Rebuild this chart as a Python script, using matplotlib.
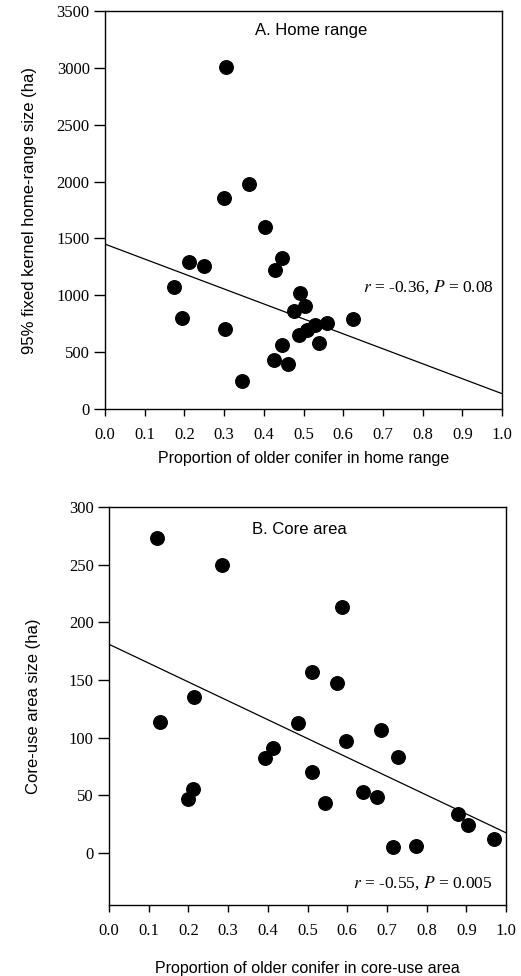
import matplotlib
matplotlib.use("Agg")
import matplotlib.pyplot as plt
import numpy as np

# Panel A: home range
hr_x = [0.304, 0.362, 0.300, 0.403, 0.446, 0.428, 0.212, 0.250, 0.174, 0.491, 0.504, 0.477,
        0.193, 0.625, 0.559, 0.530, 0.508, 0.489, 0.303, 0.540, 0.446, 0.426, 0.462, 0.345]
hr_y = [3011, 1980, 1854, 1602, 1324, 1224, 1289, 1259, 1072, 1019, 905, 864,
        800, 791, 756, 741, 697, 653, 700, 583, 562, 428, 398, 249]
hr_fit_x = [0.0, 1.0]
hr_fit_y = [1450, 135]

# Panel B: core area
ca_x = [0.122, 0.284, 0.586, 0.512, 0.574, 0.215, 0.128, 0.476, 0.686, 0.598, 0.412, 0.392,
        0.727, 0.512, 0.211, 0.200, 0.641, 0.676, 0.545, 0.879, 0.905, 0.971, 0.716, 0.773]
ca_y = [272.8, 249.7, 213, 156.6, 147.7, 135, 114, 112.7, 106.6, 96.8, 90.8, 82,
        83, 70, 55.8, 46.8, 52.9, 49, 43, 33.8, 24, 11.8, 5.2, 6]
ca_fit_x = [0.0, 1.0]
ca_fit_y = [181, 17.6]

x_ticks = [0.0, 0.1, 0.2, 0.3, 0.4, 0.5, 0.6, 0.7, 0.8, 0.9, 1.0]
hr_yticks = [0, 500, 1000, 1500, 2000, 2500, 3000, 3500]
ca_yticks = [0, 50, 100, 150, 200, 250, 300]

serif = "Liberation Serif"
sans = "Liberation Sans"
W, H = 521, 976
fig = plt.figure(figsize=(W / 100, H / 100), dpi=100)

def fr(l, t, r, b):
    return [l / W, 1 - b / H, (r - l) / W, (b - t) / H]

axA = fig.add_axes(fr(105, 11, 502, 409))
axB = fig.add_axes(fr(109, 507, 506, 905))

def style(ax, yticks):
    ax.set_xticks(x_ticks)
    ax.set_xticklabels([f"{v:.1f}" for v in x_ticks], fontfamily=serif, fontsize=12)
    ax.set_yticks(yticks)
    ax.set_yticklabels([str(v) for v in yticks], fontfamily=serif, fontsize=12)
    ax.tick_params(axis="x", direction="out", length=5, width=1, pad=8)
    ax.tick_params(axis="y", direction="out", length=8, width=1, pad=3)
    for s in ax.spines.values():
        s.set_linewidth(1)

# Panel A
axA.plot(hr_fit_x, hr_fit_y, color="black", lw=0.9)
axA.scatter(hr_x, hr_y, s=95, color="black", zorder=3, clip_on=False)
axA.set_xlim(0, 1)
axA.set_ylim(0, 3500)
style(axA, hr_yticks)
axA.set_xlabel("Proportion of older conifer in home range", fontfamily=sans, fontsize=11.5, labelpad=6)
axA.set_ylabel("95% fixed kernel home-range size (ha)", fontfamily=sans, fontsize=12, labelpad=14)
axA.text(0.52, 3327, "A. Home range", fontfamily=sans, fontsize=12, ha="center", va="center")
axA.text(0.98, 1072, r"$\it{r}$ = -0.36, $\it{P}$ = 0.08", fontfamily=serif, fontsize=12.5,
         ha="right", va="center", math_fontfamily="stix")

# Panel B
axB.plot(ca_fit_x, ca_fit_y, color="black", lw=0.9)
axB.scatter(ca_x, ca_y, s=95, color="black", zorder=3, clip_on=False)
axB.set_xlim(0, 1)
axB.set_ylim(-45, 300)
style(axB, ca_yticks)
axB.set_xlabel("Proportion of older conifer in core-use area", fontfamily=sans, fontsize=11.5, labelpad=16)
axB.set_ylabel("Core-use area size (ha)", fontfamily=sans, fontsize=12, labelpad=20)
axB.text(0.48, 280.6, "B. Core area", fontfamily=sans, fontsize=12, ha="center", va="center")
axB.text(0.966, -26, r"$\it{r}$ = -0.55, $\it{P}$ = 0.005", fontfamily=serif, fontsize=12.5,
         ha="right", va="center", math_fontfamily="stix")

fig.savefig("out.png", dpi=100)
